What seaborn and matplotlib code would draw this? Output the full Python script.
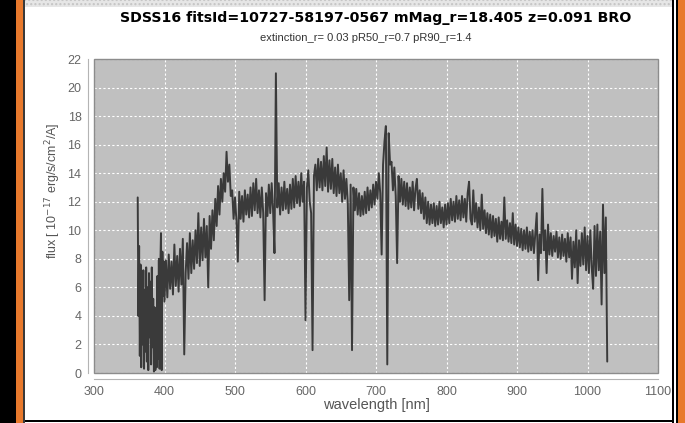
import numpy as np
import pandas as pd
import seaborn as sns
import matplotlib.pyplot as plt
from matplotlib.patches import Rectangle

# ---- chart text -------------------------------------------------------------
title = "SDSS16 fitsId=10727-58197-0567 mMag_r=18.405 z=0.091 BRO"
subtitle = "extinction_r= 0.03 pR50_r=0.7 pR90_r=1.4"
x_label = "wavelength [nm]"
y_label = "flux [ 10$^{-17}$ erg/s/cm$^2$/A]"

# ---- spectrum ---------------------------------------------------------------
# noisy blue end, sampled every 1 nm from 362 nm
blue_start = 362.0
blue_step = 1.0
blue_flux = [
    12.3, 4.0, 8.9, 1.2, 7.6, 0.4, 6.5, 2.0, 7.2, 0.3,   # 362-371
    5.8, 1.5, 7.4, 0.8, 6.0, 0.2, 7.0, 2.5, 6.4, 0.6,    # 372-381
    7.4, 1.8, 5.2, 0.1, 4.6, 0.2, 3.5, 0.4, 6.8, 1.0,    # 382-391
    8.0, 0.3, 7.2, 9.8, 0.2, 8.5, 5.4, 7.8,              # 392-399
]

# rest of the spectrum, sampled every 2 nm from 400 nm
red_start = 400.0
red_step = 2.0
red_flux = [
    5.0,                                                          # 400
    7.9, 5.3, 8.3, 5.9, 7.8, 5.5, 9.0, 6.1, 8.2, 5.7,             # 402-420
    8.7, 6.2, 9.4, 1.3, 7.0, 9.1, 6.6, 9.8, 7.0, 9.3,             # 422-440
    7.3, 10.0, 7.7, 11.2, 7.5, 10.2, 7.9, 10.8, 8.1, 10.3,        # 442-460
    6.0, 11.0, 8.7, 11.4, 9.3, 12.2, 10.3, 13.1, 11.1, 13.6,      # 462-480
    12.0, 14.0, 12.7, 15.5, 13.4, 14.6, 12.4, 12.8, 10.8, 12.3,   # 482-500
    10.7, 7.8, 12.7, 10.8, 12.4, 10.6, 12.8, 11.1, 12.5, 10.9,    # 502-520
    13.0, 11.0, 13.3, 11.4, 13.6, 11.2, 12.8, 10.9, 13.0, 11.2,   # 522-540
    5.1, 12.6, 11.0, 13.2, 11.2, 13.3, 11.4, 8.4, 21.0, 11.6,     # 542-560
    13.3, 11.1, 13.0, 11.4, 13.4, 11.5, 12.9, 11.2, 13.2, 11.5,   # 562-580
    13.6, 11.6, 13.8, 11.9, 13.4, 11.7, 14.0, 12.0, 13.4, 3.7,    # 582-600
    13.0, 14.2, 12.0, 11.2, 1.6, 13.8, 14.6, 12.8, 15.0, 13.0,    # 602-620
    14.8, 12.8, 15.2, 13.1, 15.8, 12.7, 14.9, 12.9, 15.0, 12.6,   # 622-640
    14.4, 12.4, 14.6, 12.6, 14.0, 12.0, 14.2, 12.2, 13.6, 11.9,   # 642-660
    5.1, 13.2, 1.6, 13.0, 11.4, 12.9, 11.1, 12.6, 11.0, 12.4,     # 662-680
    11.1, 12.7, 11.2, 13.0, 11.4, 12.8, 11.6, 13.2, 11.8, 13.4,   # 682-700
    12.2, 14.0, 12.6, 8.3, 14.6, 16.2, 17.3, 0.6, 16.8, 14.6,     # 702-720
    14.8, 12.8, 14.4, 12.4, 7.7, 13.8, 12.0, 13.6, 11.8, 13.4,    # 722-740
    11.7, 13.3, 11.5, 13.0, 11.6, 13.4, 11.4, 12.9, 13.6, 11.5,   # 742-760
    12.8, 11.2, 12.6, 10.8, 12.3, 10.5, 12.0, 10.4, 11.8, 10.5,   # 762-780
    11.9, 10.3, 11.7, 10.4, 12.0, 10.5, 11.6, 10.2, 11.8, 10.4,   # 782-800
    11.9, 10.5, 12.2, 10.7, 12.0, 10.6, 12.4, 10.8, 12.1, 10.7,   # 802-820
    12.4, 10.9, 12.2, 10.6, 12.6, 13.4, 10.8, 10.4, 12.8, 10.6,   # 822-840
    11.9, 10.2, 11.6, 10.0, 12.5, 10.1, 11.4, 9.8, 11.2, 9.7,     # 842-860
    11.1, 9.5, 11.0, 9.6, 10.8, 9.2, 10.9, 9.4, 10.6, 9.3,        # 862-880
    12.3, 9.4, 10.7, 9.2, 10.5, 9.1, 11.2, 9.0, 10.4, 8.9,        # 882-900
    10.2, 8.8, 10.1, 8.6, 10.0, 8.7, 10.2, 8.5, 9.9, 8.6,         # 902-920
    10.0, 8.4, 9.8, 11.2, 6.5, 9.7, 8.4, 12.9, 8.6, 10.0,         # 922-940
    7.0, 10.4, 8.3, 9.8, 8.2, 9.6, 8.5, 9.9, 8.1, 9.5,            # 942-960
    8.0, 9.7, 8.2, 9.4, 7.8, 9.8, 8.1, 9.5, 6.6, 9.2,             # 962-980
    7.4, 10.0, 6.3, 9.3, 7.5, 9.8, 7.6, 10.2, 7.2, 9.6,           # 982-1000
    7.0, 10.0, 7.4, 5.9, 10.3, 6.8, 10.4, 7.2, 9.9, 4.8,          # 1002-1020
    11.8, 7.0, 10.9, 0.8,                                         # 1022-1028
]

x_ticks = [300, 400, 500, 600, 700, 800, 900, 1000, 1100]
y_ticks = [0, 2, 4, 6, 8, 10, 12, 14, 16, 18, 20, 22]

wavelength = np.concatenate([
    blue_start + blue_step * np.arange(len(blue_flux)),
    red_start + red_step * np.arange(len(red_flux)),
])
spec = pd.DataFrame({"wavelength": wavelength, "flux": blue_flux + red_flux})

# ---- figure -----------------------------------------------------------------
sns.set_theme(style="white")
plt.rcParams["font.family"] = ["Liberation Sans", "DejaVu Sans"]

W, H = 685, 423
fig = plt.figure(figsize=(W / 100, H / 100), dpi=100, facecolor="white")


def frame_rect(x0, y0, x1, y1, **kw):
    """Rectangle given in pixel coordinates measured from the top-left."""
    fig.add_artist(Rectangle((x0 / W, 1 - y1 / H), (x1 - x0) / W, (y1 - y0) / H,
                             transform=fig.transFigure, lw=0, **kw))


# window frame around the panel
frame_rect(0, 0, 16, H, color="black")
frame_rect(16, 0, 23, H, color="#e8792c")
frame_rect(23, 0, 25, H, color="#3a3a3a")
frame_rect(25, 0, 672, 7, facecolor="#e6e6e6", hatch="....", edgecolor="#c4c4c4")
frame_rect(672, 0, 674, H, color="black")
frame_rect(676, 0, 678, H, color="black")
frame_rect(678, 0, W, H, color="#e8792c")
frame_rect(25, 420, 672, 422, color="black")

# plotting area
ax = fig.add_axes([94 / W, (H - 373) / H, 564 / W, 314 / H])
ax.set_facecolor("#c0c0c0")
ax.set_axisbelow(True)
ax.grid(True, color="white", linestyle=(0, (2, 2)), linewidth=0.8)

sns.lineplot(data=spec, x="wavelength", y="flux", ax=ax, color="#3a3a3a",
             linewidth=1.4, estimator=None, sort=False)

ax.set_xlim(x_ticks[0], x_ticks[-1])
ax.set_ylim(y_ticks[0], y_ticks[-1])
ax.set_xticks(x_ticks)
ax.set_yticks(y_ticks)
ax.tick_params(axis="both", direction="out", length=3, width=0.8, color="#a0a0a0",
               labelsize=9, labelcolor="#666666", pad=2)

for side in ("top", "right"):
    ax.spines[side].set_visible(False)
for side in ("left", "bottom"):
    ax.spines[side].set_position(("outward", 4))
    ax.spines[side].set_color("#b4b4b4")
    ax.spines[side].set_linewidth(0.8)
ax.add_patch(Rectangle((0, 0), 1, 1, transform=ax.transAxes, fill=False,
                       edgecolor="#8c8c8c", linewidth=1.0, clip_on=False, zorder=5))

ax.set_xlabel(x_label, fontsize=10.5, color="#555555", labelpad=0)
ax.set_ylabel(y_label, fontsize=9, color="#555555")
ax.yaxis.set_label_coords(-0.055, 0.58)

fig.text(376 / W, 1 - 18 / H, title, ha="center", va="center", fontsize=10.2,
         fontweight="bold", family=["DejaVu Sans"], color="black")
fig.text(366 / W, 1 - 38 / H, subtitle, ha="center", va="center", fontsize=8,
         color="#333333")

fig.savefig("out.png", dpi=100, facecolor="white")
